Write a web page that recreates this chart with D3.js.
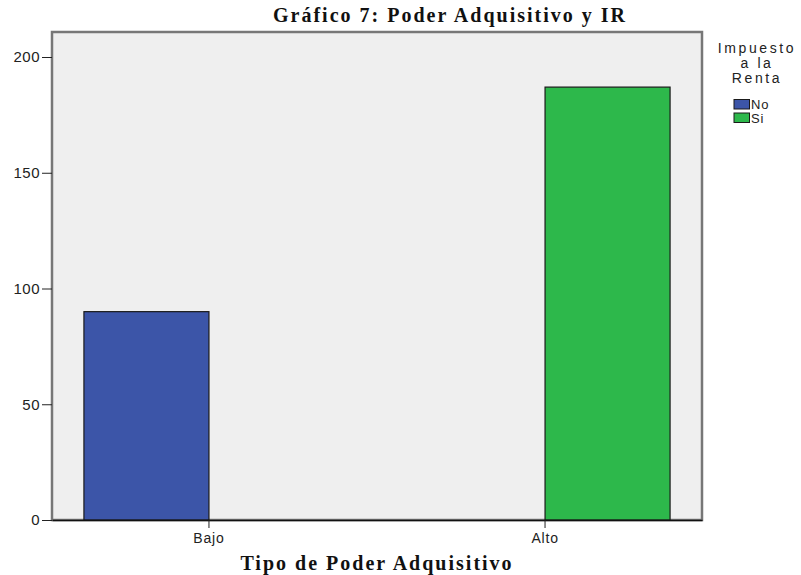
<!DOCTYPE html>
<html><head><meta charset="utf-8">
<script src="https://cdn.jsdelivr.net/npm/d3@7"></script>
<style>body{margin:0;background:#fff}svg{display:block}</style>
</head><body>
<svg id="c" width="801" height="575"></svg>
<script>
const categories = ["Bajo", "Alto"];
const seriesNames = ["No", "Si"];
const valuesNo = [90, 0];
const valuesSi = [0, 187];
const yTicks = [0, 50, 100, 150, 200];
const colors = ["#3c55a8", "#2db84b"];

const svg = d3.select("#c");
const m = {l: 52, r: 702, t: 32, b: 520};
const x = d3.scaleBand().domain(categories).range([m.l, m.r]).paddingInner(0.256).paddingOuter(0.095);
const xs = d3.scaleBand().domain(seriesNames).range([0, x.bandwidth()]);
const y = d3.scaleLinear().domain([0, 210.8]).range([m.b, m.t]);

// plot background and frame
svg.append("rect").attr("x", m.l).attr("y", m.t).attr("width", m.r - m.l).attr("height", m.b - m.t)
  .attr("fill", "#efefef").attr("stroke", "#777").attr("stroke-width", 2.5);

const data = [];
categories.forEach((c, i) => {
  data.push({c, s: "No", v: valuesNo[i]});
  data.push({c, s: "Si", v: valuesSi[i]});
});
svg.append("g").selectAll("rect").data(data.filter(d => d.v > 0)).join("rect")
  .attr("x", d => x(d.c) + xs(d.s)).attr("width", xs.bandwidth())
  .attr("y", d => y(d.v)).attr("height", d => y(0) - y(d.v))
  .attr("fill", d => colors[seriesNames.indexOf(d.s)])
  .attr("stroke", "#1a1a1a").attr("stroke-width", 1.2);

// y axis
const ya = svg.append("g").attr("transform", `translate(${m.l},0)`)
  .call(d3.axisLeft(y).tickValues(yTicks).tickSize(10).tickSizeOuter(0).tickPadding(2));
ya.select(".domain").remove();
ya.selectAll("line").attr("stroke", "#222");
ya.selectAll("text").attr("font-family", "Liberation Sans, Arial").attr("font-size", 15).attr("letter-spacing", 0.5).attr("fill", "#222");

// x axis
const xa = svg.append("g").attr("transform", `translate(0,${m.b})`)
  .call(d3.axisBottom(x).tickSize(8).tickSizeOuter(0).tickPadding(5));
xa.select(".domain").attr("stroke", "#111").attr("stroke-width", 1.5);
xa.selectAll("line").attr("stroke", "#222");
xa.selectAll("text").attr("font-family", "Liberation Sans, Arial").attr("font-size", 14).attr("letter-spacing", 0.8).attr("fill", "#222");

// title
svg.append("text").attr("x", 450).attr("y", 22).attr("text-anchor", "middle")
  .attr("font-family", "Liberation Serif, Times New Roman").attr("font-weight", "bold")
  .attr("font-size", 20).attr("letter-spacing", 2).attr("fill", "#111")
  .text("Gráfico 7: Poder Adquisitivo y IR");

// x title
svg.append("text").attr("x", (m.l + m.r) / 2).attr("y", 570).attr("text-anchor", "middle")
  .attr("font-family", "Liberation Serif, Times New Roman").attr("font-weight", "bold")
  .attr("font-size", 20).attr("letter-spacing", 2).attr("fill", "#111")
  .text("Tipo de Poder Adquisitivo");

// legend
const lg = svg.append("g");
["Impuesto", "a la", "Renta"].forEach((t, i) => {
  lg.append("text").attr("x", 757).attr("y", 53 + i * 15).attr("text-anchor", "middle")
    .attr("font-family", "Liberation Sans, Arial").attr("font-size", 14).attr("letter-spacing", 2.6)
    .attr("fill", "#222").text(t);
});
seriesNames.forEach((s, i) => {
  lg.append("rect").attr("x", 734).attr("y", 99.5 + i * 13.5).attr("width", 15.5).attr("height", 9.5)
    .attr("fill", colors[i]).attr("stroke", "#1a1a1a").attr("stroke-width", 1);
  lg.append("text").attr("x", 751).attr("y", 109 + i * 13.5)
    .attr("font-family", "Liberation Sans, Arial").attr("font-size", 13).attr("letter-spacing", 0.8)
    .attr("fill", "#222").text(s);
});
</script>
</body></html>
